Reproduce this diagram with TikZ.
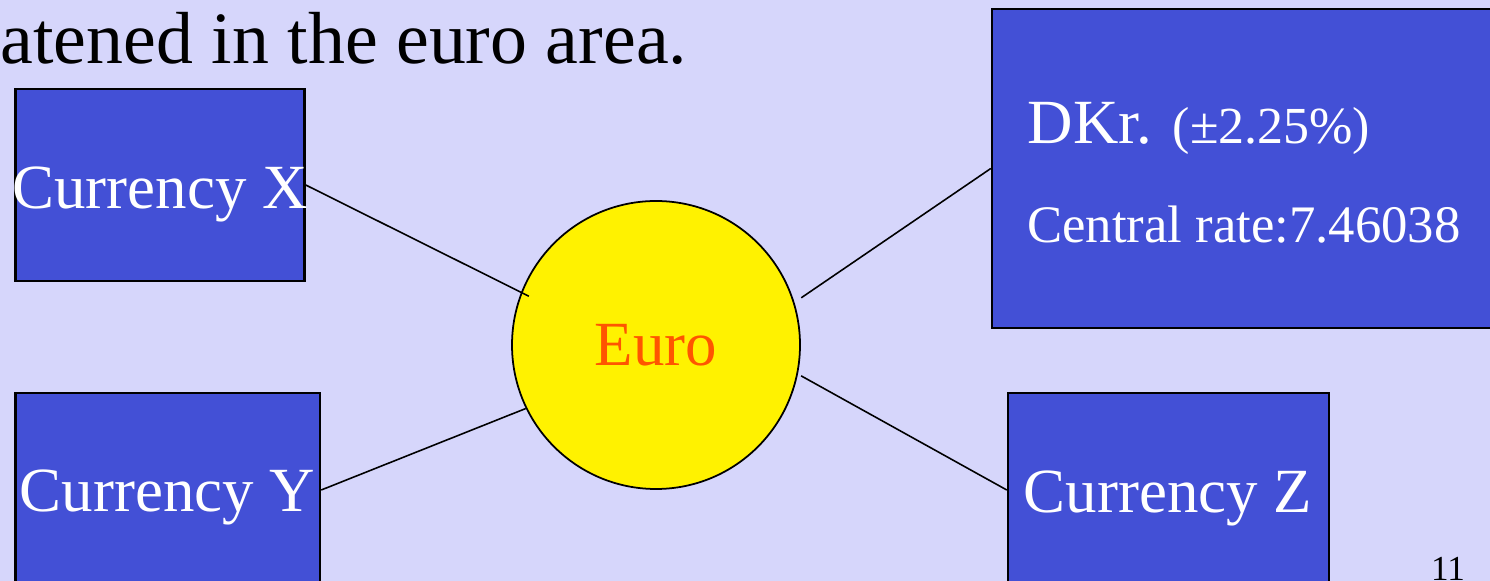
\documentclass[tikz,border=0pt]{standalone}
\usepackage{fontspec}
\setmainfont{Liberation Serif}
\usetikzlibrary{calc}

\definecolor{slidebg}{RGB}{214,214,251}
\definecolor{boxblue}{RGB}{67,80,214}
\definecolor{euroorange}{RGB}{255,85,0}

\tikzset{
  box/.style={draw, fill=boxblue, line width=0.7pt, inner sep=0pt},
  boxtext/.style={anchor=base, text=white, inner sep=0pt, font=\fontsize{17.9}{20}\selectfont},
}

\begin{document}
\begin{tikzpicture}

\useasboundingbox (0,0) rectangle (14.9,-5.81);
\fill [slidebg] (0,0) rectangle (14.9,-5.81);
\clip (0,0) rectangle (14.9,-5.81);

\node [anchor=base west, inner sep=0pt, font=\fontsize{21}{24}\selectfont] (title) at (0,-0.635) {atened in the euro area.};

% the four boxes
\node [box, minimum width=2.89cm, minimum height=1.92cm] (cx) at (1.6,-1.85) {};
\node [box, minimum width=3.045cm, minimum height=1.94cm] (cy) at (1.6775,-4.90) {};
\node [box, minimum width=5.08cm, minimum height=3.19cm] (dkr) at (12.46,-1.685) {};
\node [box, minimum width=3.21cm, minimum height=1.94cm] (cz) at (11.685,-4.90) {};

\node [boxtext] (cxt) at (1.6,-2.083) {Currency X};
\node [boxtext] (cyt) at (1.675,-5.12) {Currency Y};
\node [boxtext] (czt) at (11.68,-5.125) {Currency Z};

\node [boxtext, anchor=base west] (dkrt) at (10.27,-1.44) {DKr. {\fontsize{14.8}{17}\selectfont(±2.25\%)}};
\node [boxtext, anchor=base west, font=\fontsize{15}{18}\selectfont] (ratet) at (10.265,-2.43) {Central rate:7.46038};

\node [circle, draw, line width=0.5pt, fill=yellow, minimum size=2.88cm, inner sep=0pt,
       text=euroorange, font=\fontsize{17.9}{20}\selectfont] (euro) at (6.56,-3.45) {Euro};

\begin{scope}[line width=0.45pt]
\draw (cx.east) -- ($(euro.center)!0.94!(euro.159)$);
\draw (cy.east) -- (euro.206);
\draw (dkr.west) -- ($(euro.center)!1.054!(euro.18)$);
\draw (cz.west) -- ($(euro.center)!1.024!(euro.-12.5)$);
\end{scope}

\node [anchor=base, inner sep=0pt, font=\fontsize{10}{12}\selectfont] (page) at (14.48,-5.80) {11};

\end{tikzpicture}
\end{document}
